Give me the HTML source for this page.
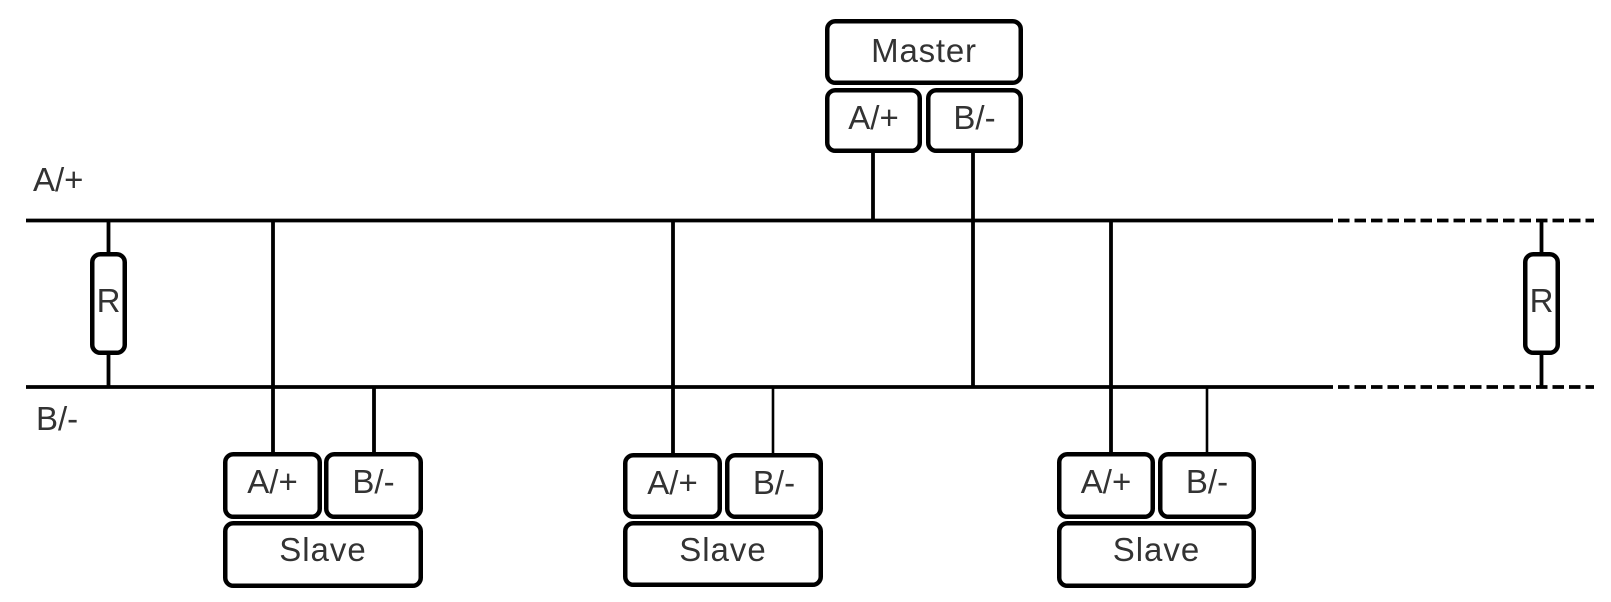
<!DOCTYPE html>
<html>
<head>
<meta charset="utf-8">
<style>
html,body{margin:0;padding:0;background:#fff;}
svg{display:block;}
text{font-family:"Liberation Sans",Arial,sans-serif;font-size:33px;fill:#333;}
</style>
</head>
<body>
<svg width="1611" height="602" viewBox="0 0 1611 602" xmlns="http://www.w3.org/2000/svg">
<g stroke="#000" stroke-width="3.8" fill="none">
  <!-- bus lines -->
  <line x1="26" y1="220.5" x2="1333" y2="220.5"/>
  <line x1="26" y1="387" x2="1333" y2="387"/>
  <line x1="1338" y1="220.5" x2="1594" y2="220.5" stroke-dasharray="11.5 5"/>
  <line x1="1338" y1="387" x2="1594" y2="387" stroke-dasharray="11.5 5"/>

  <!-- resistor leads -->
  <line x1="108.5" y1="220" x2="108.5" y2="253"/>
  <line x1="108.5" y1="353" x2="108.5" y2="387"/>
  <line x1="1541.5" y1="220" x2="1541.5" y2="253"/>
  <line x1="1541.5" y1="354" x2="1541.5" y2="387"/>

  <!-- master connectors -->
  <line x1="873" y1="152" x2="873" y2="221"/>
  <line x1="973" y1="152" x2="973" y2="387"/>

  <!-- slave connectors -->
  <line x1="273" y1="220" x2="273" y2="455"/>
  <line x1="374" y1="387" x2="374" y2="455"/>
  <line x1="673" y1="220" x2="673" y2="456"/>
  <line x1="773" y1="387" x2="773" y2="456" stroke-width="2.6"/>
  <line x1="1111" y1="220" x2="1111" y2="455"/>
  <line x1="1207" y1="387" x2="1207" y2="455" stroke-width="2.6"/>
</g>

<g stroke="#000" stroke-width="4.5" fill="#fff">
  <!-- resistors -->
  <rect x="92.25" y="254.25" width="32.5" height="98.5" rx="8"/>
  <rect x="1525.25" y="254.25" width="32.5" height="98.5" rx="8"/>

  <!-- master -->
  <rect x="827.25" y="21.25" width="193.5" height="61.5" rx="8"/>
  <rect x="827.25" y="90.25" width="92.5" height="60.5" rx="8"/>
  <rect x="928.25" y="90.25" width="92.5" height="60.5" rx="8"/>

  <!-- slave 1 -->
  <rect x="225.25" y="454.25" width="94.5" height="62.5" rx="8"/>
  <rect x="326.25" y="454.25" width="94.5" height="62.5" rx="8"/>
  <rect x="225.25" y="523.25" width="195.5" height="62.5" rx="8"/>

  <!-- slave 2 -->
  <rect x="625.25" y="455.25" width="94.5" height="61.5" rx="8"/>
  <rect x="727.25" y="455.25" width="93.5" height="61.5" rx="8"/>
  <rect x="625.25" y="523.25" width="195.5" height="61.5" rx="8"/>

  <!-- slave 3 -->
  <rect x="1059.25" y="454.25" width="93.5" height="62.5" rx="8"/>
  <rect x="1160.25" y="454.25" width="93.5" height="62.5" rx="8"/>
  <rect x="1059.25" y="523.25" width="194.5" height="62.5" rx="8"/>
</g>

<g text-anchor="middle">
  <text x="924" y="62" letter-spacing="0.8">Master</text>
  <text x="873.5" y="129">A/+</text>
  <text x="974.5" y="129">B/-</text>

  <text x="272.5" y="493">A/+</text>
  <text x="373.5" y="493">B/-</text>
  <text x="323" y="561" letter-spacing="1">Slave</text>

  <text x="672.5" y="494">A/+</text>
  <text x="774" y="494">B/-</text>
  <text x="723" y="561" letter-spacing="1">Slave</text>

  <text x="1106" y="493">A/+</text>
  <text x="1207" y="493">B/-</text>
  <text x="1156.5" y="561" letter-spacing="1">Slave</text>

  <text x="108.5" y="312">R</text>
  <text x="1541.5" y="312">R</text>
</g>
<text x="33" y="191">A/+</text>
<text x="36" y="430">B/-</text>
</svg>
</body>
</html>
